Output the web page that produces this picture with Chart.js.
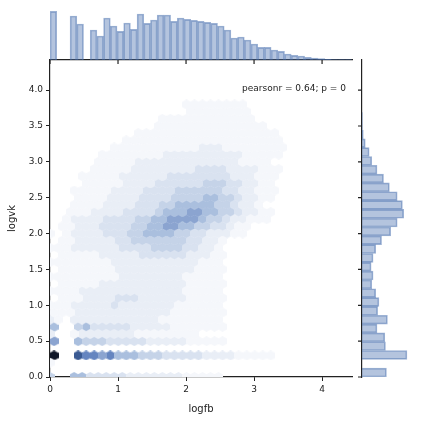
<!DOCTYPE html>
<html>
<head>
<meta charset="utf-8">
<script src="https://cdn.jsdelivr.net/npm/chart.js@4.4.1/dist/chart.umd.min.js"></script>
<style>
  body { margin: 0; background: #fff; }
  .wrap { position: relative; width: 421px; height: 421px; }
  .wrap canvas { position: absolute; left: 0; top: 0; }
</style>
</head>
<body>
<div class="wrap">
  <canvas id="mainChart" width="421" height="421"></canvas>
  <canvas id="topChart" width="421" height="421"></canvas>
  <canvas id="rightChart" width="421" height="421"></canvas>
</div>
<script>
// hexbin density, one string per row (bottom-up), 0 = empty, 9 = darkest
const hexRows = [
  "4005533333222222211111",
  "",
  "1",
  "9008776755544433333222211111",
  "",
  "6005444333332222211111",
  "2001222222211111111",
  "5004533333222221111111",
  "2102222222222211111111",
  "1112222222222221111111",
  "1112222232222222111111",
  "0111222233322222211111",
  "1111222222222222211111",
  "0111112222222222211111",
  "1111111112222222211111",
  "0111111122222222221111",
  "1111111122222222222111",
  "0111112222233333322211",
  "1112222223333444433221",
  "0112222233444444433221",
  "1012222333445555443322211",
  "0112223333445566554433211",
  "0012222333344556666544322111",
  "0011122223333455566554432211",
  "000111122223334455555443221",
  "0001111222233334444554432211",
  "00011111222233334444443322111",
  "0000111112222333333444332211",
  "00001111122222233333333222111",
  "00000111112222222233332222111",
  "0000001111122222222222221111",
  "00000011111111222222222211111",
  "000000001111111111122211111111",
  "00000000011111111111111111111",
  "00000000000111111111111111111",
  "000000000000011111111111111",
  "00000000000000111111111111",
  "0000000000000000011111111",
  "0000000000000000011111111"
];
const hexDx = 0.118;
const hexDy = 0.1;

// top marginal histogram (logfb)
const topBinWidth = 0.0985;
const topCounts = [146,0,0,132,108,0,90,72,126,102,86,111,92,138,110,120,135,135,116,126,122,119,116,113,110,102,90,66,69,60,48,38,38,30,26,18,14,12,8,6,4,2,1,1,1];

// right marginal histogram (logvk)
const rightBinWidth = 0.123;
const rightCounts = [75,0,138,72,70,46,78,48,52,42,30,34,28,34,42,60,88,108,128,124,108,84,66,46,30,22,10,4,1,1];

const xTicks = [0, 1, 2, 3, 4];
const yTicks = [0, 0.5, 1, 1.5, 2, 2.5, 3, 3.5, 4];

const xMax = 4.44, yMax = 4.42;
const levelColors = ['#ffffff','#f5f7fb','#e9eef6','#d9e2f0','#c5d3e8','#aabfde','#8ba4d0','#6585c0','#3a5a93','#0f1626'];

function hexImage(color) {
  const c = document.createElement('canvas');
  const w = 9, h = 10;
  c.width = w; c.height = h;
  const g = c.getContext('2d');
  g.fillStyle = color;
  g.beginPath();
  g.moveTo(w / 2, 0); g.lineTo(w, h * 0.25); g.lineTo(w, h * 0.75);
  g.lineTo(w / 2, h); g.lineTo(0, h * 0.75); g.lineTo(0, h * 0.25);
  g.closePath(); g.fill();
  return c;
}

const hexSets = [];
for (let lvl = 1; lvl <= 9; lvl++) {
  const pts = [];
  hexRows.forEach((row, r) => {
    for (let c = 0; c < row.length; c++) {
      if (Number(row[c]) === lvl) pts.push({ x: c * hexDx + (r % 2 ? hexDx / 2 : 0), y: r * hexDy });
    }
  });
  hexSets.push({ data: pts, pointStyle: hexImage(levelColors[lvl]), pointRadius: 5, pointHoverRadius: 5 });
}

const tickFont = { family: 'DejaVu Sans', size: 9 };
const tickColor = '#222';
const setTicks = list => s => { s.ticks = list.map(v => ({ value: v })); };

const pearsonText = {
  id: 'pearsonText',
  afterDraw(chart) {
    const g = chart.ctx;
    g.save();
    g.font = '9px DejaVu Sans';
    g.fillStyle = '#222';
    g.textAlign = 'right';
    g.fillText('pearsonr = 0.64; p = 0', 346, 91);
    g.restore();
  }
};

// tick marks on the marginal spines, placed through the chart's own scale
const spineTicks = {
  id: 'spineTicks',
  afterDraw(chart, args, opts) {
    const g = chart.ctx;
    const a = chart.chartArea;
    const s = chart.scales[opts.axis];
    g.save();
    g.strokeStyle = '#222';
    g.lineWidth = 1.2;
    g.beginPath();
    opts.values.forEach(v => {
      const p = s.getPixelForValue(v);
      if (opts.axis === 'x') { g.moveTo(p, a.bottom); g.lineTo(p, a.bottom + 4); }
      else { g.moveTo(a.left, p); g.lineTo(a.left - 4, p); }
    });
    g.stroke();
    g.restore();
  }
};

new Chart(document.getElementById('mainChart'), {
  type: 'scatter',
  data: { datasets: hexSets },
  options: {
    responsive: false, animation: false,
    layout: { padding: { left: 0, right: 69, top: 60, bottom: 0 } },
    plugins: { legend: { display: false }, tooltip: { enabled: false } },
    scales: {
      x: {
        min: 0, max: xMax,
        afterFit(s) { s.height = 44; },
        afterBuildTicks: setTicks(xTicks),
        ticks: { font: tickFont, color: tickColor, autoSkip: false, maxRotation: 0 },
        grid: { drawOnChartArea: false, tickLength: 4, color: '#222' },
        border: { color: '#222', width: 1.2 },
        title: { display: true, text: 'logfb', font: { family: 'DejaVu Sans', size: 10 }, color: '#222', padding: { top: 4, bottom: 6 } }
      },
      y: {
        min: 0, max: yMax,
        afterFit(s) { s.width = 50; },
        afterBuildTicks: setTicks(yTicks),
        ticks: { font: tickFont, color: tickColor, autoSkip: false, callback: v => v.toFixed(1) },
        grid: { drawOnChartArea: false, tickLength: 4, color: '#222' },
        border: { color: '#222', width: 1.2 },
        title: { display: true, text: 'logvk', font: { family: 'DejaVu Sans', size: 10 }, color: '#222', padding: { top: 6, bottom: 2 } }
      }
    }
  },
  plugins: [pearsonText]
});

const barFill = 'rgba(76,114,176,0.42)';
const barEdge = 'rgba(76,114,176,0.55)';

new Chart(document.getElementById('topChart'), {
  type: 'bar',
  data: { datasets: [{ data: topCounts.map((v, i) => ({ x: (i + 0.5) * topBinWidth, y: v })), backgroundColor: barFill, borderColor: barEdge, borderWidth: 1, barPercentage: 1, categoryPercentage: 1 }] },
  options: {
    responsive: false, animation: false,
    layout: { padding: { left: 50, right: 69, top: 10, bottom: 0 } },
    plugins: { legend: { display: false }, tooltip: { enabled: false }, spineTicks: { axis: 'x', values: xTicks } },
    scales: {
      x: {
        type: 'linear', min: 0, max: xMax, offset: false,
        afterFit(s) { s.height = 361; },
        ticks: { display: false },
        grid: { display: false },
        border: { color: '#222', width: 1.2 }
      },
      y: { display: false, min: 0, max: 150 }
    }
  },
  plugins: [spineTicks]
});

new Chart(document.getElementById('rightChart'), {
  type: 'bar',
  data: { datasets: [{ data: rightCounts.map((v, i) => ({ y: (i + 0.5) * rightBinWidth, x: v })), backgroundColor: barFill, borderColor: barEdge, borderWidth: 1, barPercentage: 1, categoryPercentage: 1 }] },
  options: {
    indexAxis: 'y',
    responsive: false, animation: false,
    layout: { padding: { left: 0, right: 2, top: 60, bottom: 44 } },
    plugins: { legend: { display: false }, tooltip: { enabled: false }, spineTicks: { axis: 'y', values: yTicks } },
    scales: {
      y: {
        type: 'linear', min: 0, max: yMax, offset: false,
        afterFit(s) { s.width = 362; },
        ticks: { display: false },
        grid: { display: false },
        border: { color: '#222', width: 1.2 }
      },
      x: { display: false, min: 0, max: 175 }
    }
  },
  plugins: [spineTicks]
});
</script>
</body>
</html>
